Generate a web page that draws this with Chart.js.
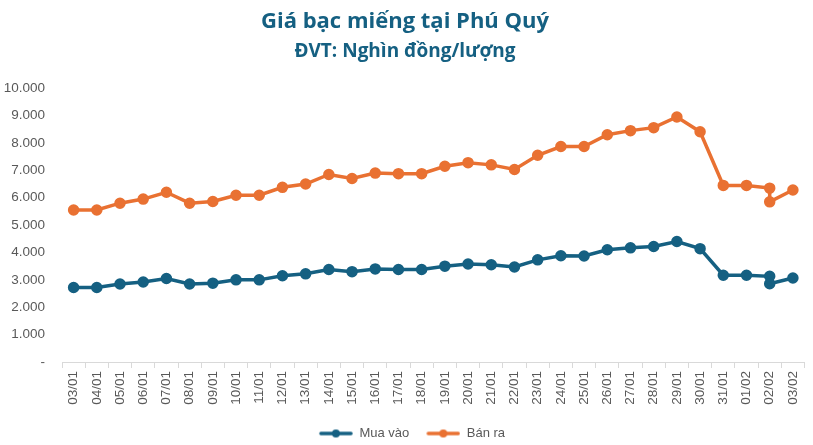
<!DOCTYPE html>
<html>
<head>
<meta charset="utf-8">
<script src="https://cdn.jsdelivr.net/npm/chart.js@4"></script>
<style>
  html, body { margin: 0; padding: 0; background: #fff; }
  #wrap { width: 813px; height: 445px; }
</style>
</head>
<body>
<div id="wrap"><canvas id="chart"></canvas></div>
<script>
// ngày giao dịch (trục x)
const days = ['03/01', '04/01', '05/01', '06/01', '07/01', '08/01', '09/01', '10/01', '11/01', '12/01',
  '13/01', '14/01', '15/01', '16/01', '17/01', '18/01', '19/01', '20/01', '21/01', '22/01',
  '23/01', '24/01', '25/01', '26/01', '27/01', '28/01', '29/01', '30/01', '31/01', '01/02',
  '02/02', '03/02'];

// ngày của từng điểm (02/02 có hai lần điều chỉnh giá)
const pointDays = ['03/01', '04/01', '05/01', '06/01', '07/01', '08/01', '09/01', '10/01', '11/01', '12/01',
  '13/01', '14/01', '15/01', '16/01', '17/01', '18/01', '19/01', '20/01', '21/01', '22/01',
  '23/01', '24/01', '25/01', '26/01', '27/01', '28/01', '29/01', '30/01', '31/01', '01/02',
  '02/02', '02/02', '03/02'];

const muaVao = [2720, 2720, 2850, 2920, 3050, 2850, 2880, 3000, 3000, 3150,
  3220, 3380, 3300, 3400, 3380, 3380, 3500, 3580, 3550, 3470,
  3730, 3880, 3870, 4100, 4170, 4220, 4400, 4140, 3170, 3170,
  3130, 2860, 3070];

const banRa = [5550, 5550, 5800, 5950, 6200, 5800, 5860, 6090, 6090, 6380,
  6500, 6850, 6700, 6900, 6880, 6880, 7150, 7280, 7200, 7030,
  7550, 7870, 7870, 8300, 8450, 8560, 8950, 8410, 6450, 6450,
  6350, 5850, 6280];

const yTicks = [0, 1000, 2000, 3000, 4000, 5000, 6000, 7000, 8000, 9000, 10000];

const blue = '#156082';
const orange = '#E97132';

function toPoints(values) {
  return values.map((v, i) => ({ x: pointDays[i], y: v }));
}

// biểu tượng chú giải: đoạn thẳng có chấm tròn, chừa khoảng trống bên trái
function legendIcon(color) {
  const c = document.createElement('canvas');
  c.width = 48; c.height = 10;
  const ctx = c.getContext('2d');
  ctx.strokeStyle = color;
  ctx.lineWidth = 3.5;
  ctx.lineCap = 'round';
  ctx.beginPath();
  ctx.moveTo(16, 5); ctx.lineTo(46, 5);
  ctx.stroke();
  ctx.fillStyle = color;
  ctx.beginPath();
  ctx.arc(31, 5, 4, 0, Math.PI * 2);
  ctx.fill();
  return c;
}

const fmt = v => v === 0 ? '-' : v.toLocaleString('de-DE');

new Chart(document.getElementById('chart'), {
  type: 'line',
  data: {
    labels: days,
    datasets: [
      {
        label: 'Mua vào',
        data: toPoints(muaVao),
        borderColor: blue,
        backgroundColor: blue,
        borderWidth: 3.5,
        pointRadius: 4,
        pointHoverRadius: 5,
        pointStyle: 'circle',
        tension: 0
      },
      {
        label: 'Bán ra',
        data: toPoints(banRa),
        borderColor: orange,
        backgroundColor: orange,
        borderWidth: 3.5,
        pointRadius: 4,
        pointHoverRadius: 5,
        pointStyle: 'circle',
        tension: 0
      }
    ]
  },
  options: {
    responsive: true,
    maintainAspectRatio: false,
    animation: false,
    layout: { padding: { left: 2, right: 5, top: 9, bottom: -5 } },
    plugins: {
      title: {
        display: true,
        text: 'Giá bạc miếng tại Phú Quý',
        color: blue,
        font: { family: 'Open Sans', size: 22, weight: 'bold' },
        padding: { top: 0, bottom: 5 }
      },
      subtitle: {
        display: true,
        text: 'ĐVT: Nghìn đồng/lượng',
        color: blue,
        font: { family: 'Open Sans', size: 19, weight: 'bold' },
        padding: { bottom: 25 }
      },
      legend: {
        position: 'bottom',
        labels: {
          color: '#595959',
          font: { family: 'Liberation Sans', size: 13 },
          usePointStyle: true,
          pointStyleWidth: 48,
          boxHeight: 10,
          padding: 3,
          generateLabels: chart => chart.data.datasets.map((ds, i) => ({
            text: ds.label,
            fontColor: '#595959',
            pointStyle: legendIcon(ds.borderColor),
            strokeStyle: 'transparent',
            fillStyle: 'transparent',
            lineWidth: 0,
            datasetIndex: i
          }))
        }
      },
      tooltip: { enabled: false }
    },
    scales: {
      x: {
        type: 'category',
        offset: true,
        afterFit: axis => { axis.height = 62; },
        grid: {
          display: true,
          offset: true,
          drawOnChartArea: false,
          drawTicks: true,
          tickLength: 6,
          color: '#d9d9d9'
        },
        border: { display: true, color: '#d9d9d9' },
        ticks: {
          color: '#595959',
          font: { family: 'Liberation Sans', size: 13.5 },
          minRotation: 90,
          maxRotation: 90,
          autoSkip: false,
          padding: 3
        }
      },
      y: {
        min: 0,
        max: 10000,
        afterBuildTicks: axis => { axis.ticks = yTicks.map(v => ({ value: v })); },
        afterFit: axis => { axis.width = 60; },
        grid: { display: false, drawTicks: false },
        border: { display: false },
        ticks: {
          color: '#595959',
          font: { family: 'Liberation Sans', size: 13.5 },
          padding: 17,
          callback: v => fmt(v)
        }
      }
    }
  }
});
</script>
</body>
</html>
